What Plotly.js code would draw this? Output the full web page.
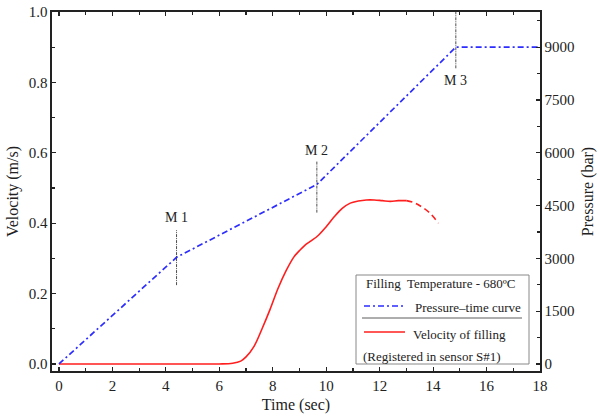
<!DOCTYPE html>
<html>
<head>
<meta charset="utf-8">
<script src="https://cdn.plot.ly/plotly-3.0.1.min.js"></script>
<style>html,body{margin:0;padding:0;background:#fff;}#chart{width:600px;height:417px;}</style>
</head>
<body>
<div id="chart"></div>
<script>
// Pressure–time curve (bar)
const pressureTime = [0, 4.4, 9.65, 14.85, 18];
const pressureBar  = [0, 3030, 5100, 9000, 9000];

// Velocity of filling (m/s), solid part
const velTime = [0, 1, 2, 3, 4, 5, 6, 6.5, 6.8, 7.0, 7.3, 7.6, 7.9, 8.2, 8.5, 8.8, 9.0, 9.2, 9.4, 9.7, 10.0, 10.3, 10.6, 10.9, 11.2, 11.5, 11.8, 12.1, 12.4, 12.7, 13.0];
const velValue = [0, 0, 0, 0, 0, 0, 0, 0.002, 0.008, 0.02, 0.05, 0.1, 0.155, 0.215, 0.265, 0.305, 0.322, 0.337, 0.348, 0.365, 0.39, 0.418, 0.442, 0.457, 0.463, 0.466, 0.466, 0.464, 0.462, 0.464, 0.464];
// Velocity of filling, dashed tail
const velTailTime  = [13.0, 13.3, 13.6, 13.9, 14.2];
const velTailValue = [0.464, 0.458, 0.445, 0.427, 0.40];

// Markers M1..M3
const markerNames = ["M 1", "M 2", "M 3"];
const markerX = [4.4, 9.65, 14.85];
const markerLineTop = [0.38, 0.577, 1.0];
const markerLineBottom = [0.224, 0.43, 0.84];
const markerLabelY = [0.415, 0.607, 0.805];

// Legend texts
const legendTitle = "Filling  Temperature - 680ºC";
const legendPressure = "Pressure–time curve";
const legendVelocity = "Velocity of filling";
const legendNote = "(Registered in sensor S#1)";

const FONT = "'Times New Roman', 'Liberation Serif', 'DejaVu Serif', serif";
const BLUE = "rgb(45,45,255)";
const RED = "rgb(255,30,30)";
const AXC = "#222";
const TXT = "#222";

// plot area in pixels: left 52, right 540, top 12, bottom 371
const px = x => (x - 52) / 488;
const py = y => (371 - y) / 359;

const traces = [
  {x: pressureTime, y: pressureBar, yaxis: 'y2', mode: 'lines', name: legendPressure,
   line: {color: BLUE, width: 1.7, dash: '6px,3px,2px,3px'}},
  {x: velTime, y: velValue, mode: 'lines', name: legendVelocity,
   line: {color: RED, width: 1.6, shape: 'spline'}},
  {x: velTailTime, y: velTailValue, mode: 'lines', name: legendVelocity + ' (tail)',
   line: {color: RED, width: 1.6, dash: '6px,4px', shape: 'spline'}}
];

const shapes = [];
const annotations = [];
for (let i = 0; i < markerNames.length; i++) {
  shapes.push({type: 'line', xref: 'x', yref: 'y', x0: markerX[i], x1: markerX[i],
    y0: markerLineBottom[i], y1: markerLineTop[i], line: {color: '#222', width: 0.8, dash: '3px,1px,1px,1px'}});
  annotations.push({xref: 'x', yref: 'y', x: markerX[i], y: markerLabelY[i], text: markerNames[i],
    showarrow: false, font: {family: FONT, size: 14, color: TXT}});
}
// legend box
shapes.push({type: 'rect', xref: 'paper', yref: 'paper', x0: px(356), x1: px(529), y0: py(364), y1: py(275),
  line: {color: '#888', width: 1}, fillcolor: 'rgba(255,255,255,1)'});
shapes.push({type: 'line', xref: 'paper', yref: 'paper', x0: px(364), x1: px(405), y0: py(306), y1: py(306),
  line: {color: BLUE, width: 1.6, dash: '6px,3px,2px,3px'}});
shapes.push({type: 'line', xref: 'paper', yref: 'paper', x0: px(362), x1: px(522), y0: py(318), y1: py(318),
  line: {color: '#333', width: 0.8}});
shapes.push({type: 'line', xref: 'paper', yref: 'paper', x0: px(364), x1: px(405), y0: py(332), y1: py(332),
  line: {color: RED, width: 1.5}});
const legTxt = (x, y, t) => annotations.push({xref: 'paper', yref: 'paper', x: px(x), y: py(y), text: t,
  xanchor: 'left', yanchor: 'middle', showarrow: false, font: {family: FONT, size: 13, color: TXT}});
legTxt(364, 283, legendTitle);
legTxt(413, 307, legendPressure);
legTxt(411, 334, legendVelocity);
legTxt(361, 356, legendNote);

const tickFont = {family: FONT, size: 15, color: TXT};
const titleFont = {family: FONT, size: 16, color: TXT};

const layout = {
  width: 600, height: 417,
  margin: {l: 52, r: 60, t: 12, b: 46},
  paper_bgcolor: '#fff', plot_bgcolor: '#fff',
  showlegend: false,
  font: {family: FONT, size: 15, color: TXT},
  xaxis: {range: [-0.26, 18], dtick: 2, tick0: 0, ticks: 'inside', ticklen: 4, tickwidth: 1.2, tickcolor: AXC,
    showline: true, linecolor: AXC, linewidth: 1.6, mirror: 'ticks', showgrid: false, zeroline: false,
    minor: {dtick: 1, ticks: 'inside', ticklen: 3, tickcolor: AXC, showgrid: false},
    tickfont: tickFont,
    title: {text: 'Time (sec)', font: titleFont, standoff: 6}},
  yaxis: {range: [-0.02, 1.0], dtick: 0.2, tickformat: '.1f', ticks: 'inside', ticklen: 4, tickwidth: 1.2, tickcolor: AXC,
    showline: true, linecolor: AXC, linewidth: 1.6, showgrid: false, zeroline: false,
    minor: {dtick: 0.1, ticks: 'inside', ticklen: 3, tickcolor: AXC, showgrid: false},
    tickfont: tickFont,
    title: {text: 'Velocity (m/s)', font: titleFont, standoff: 6}},
  yaxis2: {overlaying: 'y', side: 'right', range: [-200, 10000], dtick: 1500, tick0: 0, tickformat: 'd',
    ticks: 'inside', ticklen: 4, tickwidth: 1.2, tickcolor: AXC,
    showline: true, linecolor: AXC, linewidth: 1.6, showgrid: false, zeroline: false,
    minor: {dtick: 750, ticks: 'inside', ticklen: 3, tickcolor: AXC, showgrid: false},
    tickfont: tickFont,
    title: {text: 'Pressure (bar)', font: titleFont, standoff: 8}},
  shapes: shapes,
  annotations: annotations
};

Plotly.newPlot('chart', traces, layout, {displayModeBar: false, staticPlot: true});
</script>
</body>
</html>
